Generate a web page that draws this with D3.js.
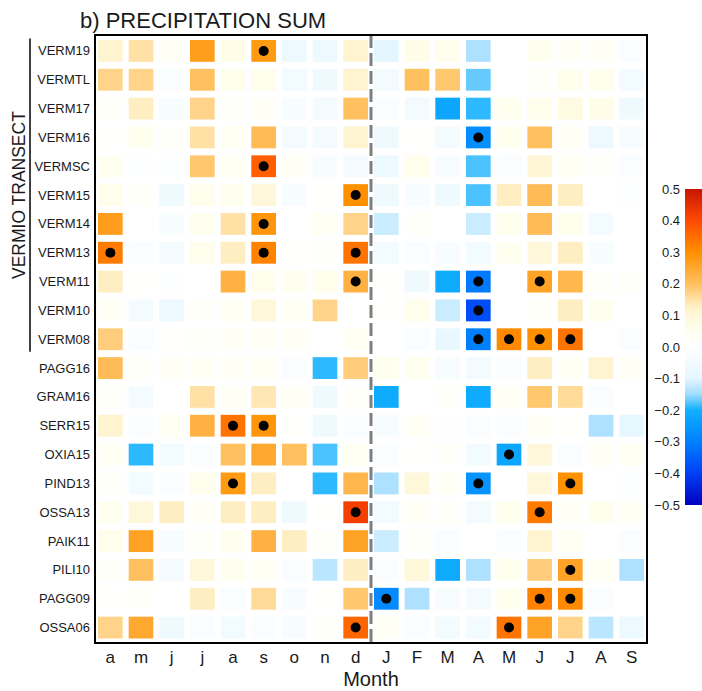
<!DOCTYPE html>
<html><head><meta charset="utf-8">
<script src="https://cdn.jsdelivr.net/npm/d3@7"></script>
<style>body{margin:0;background:#fff;} svg{font-family:"Liberation Sans",Arial,sans-serif;}</style>
</head><body><svg id="c" width="702" height="691"></svg>
<script>
const months = ["a","m","j","j","a","s","o","n","d","J","F","M","A","M","J","J","A","S"];
const sites = ["VERM19","VERMTL","VERM17","VERM16","VERMSC","VERM15","VERM14","VERM13","VERM11","VERM10","VERM08",
  "PAGG16","GRAM16","SERR15","OXIA15","PIND13","OSSA13","PAIK11","PILI10","PAGG09","OSSA06"];
const values = [
  [0.12,0.15,0.03,0.27,0.07,0.28,-0.07,-0.07,0.12,-0.10,0.07,0.06,-0.14,0.00,0.05,0.03,0.03,-0.02],
  [0.17,0.17,-0.02,0.20,0.06,0.06,-0.05,-0.06,0.12,-0.04,0.20,0.19,-0.17,0.00,0.02,0.06,0.06,-0.05],
  [0.02,0.13,-0.03,0.17,0.02,0.03,-0.03,-0.04,0.20,-0.02,-0.04,-0.22,-0.19,0.05,0.06,0.08,0.07,-0.06],
  [0.01,0.05,0.02,0.15,0.04,0.21,-0.04,-0.04,0.12,-0.06,0.01,-0.04,-0.27,0.05,0.20,0.03,-0.07,-0.03],
  [0.05,-0.01,-0.01,0.19,0.04,0.37,0.03,-0.03,-0.04,-0.07,0.06,-0.03,-0.18,-0.02,0.11,0.04,0.02,-0.02],
  [0.06,0.02,-0.06,0.06,0.05,0.10,-0.03,0.01,0.30,-0.06,-0.03,-0.06,-0.18,0.13,0.21,0.13,0.00,-0.01],
  [0.27,0.00,-0.03,0.05,0.15,0.29,0.00,0.04,0.17,-0.12,0.02,0.00,-0.12,0.05,0.21,0.06,-0.05,0.00],
  [0.33,-0.02,-0.04,0.06,0.13,0.32,0.01,0.02,0.34,-0.05,-0.02,-0.03,-0.05,0.05,0.10,0.13,-0.03,0.00],
  [0.13,0.01,-0.01,0.00,0.23,0.06,0.05,0.06,0.23,0.01,-0.06,-0.21,-0.31,0.00,0.26,0.22,0.02,0.02],
  [0.03,-0.04,-0.07,0.02,0.04,0.10,0.04,0.17,0.00,0.01,0.06,-0.12,-0.38,0.00,0.02,0.13,0.05,0.00],
  [0.18,-0.02,0.01,0.02,0.03,0.03,0.03,0.00,0.04,0.00,-0.02,-0.08,-0.30,0.31,0.30,0.34,0.00,-0.02],
  [0.21,0.02,0.03,0.04,0.03,0.04,-0.02,-0.19,0.18,0.05,0.05,-0.03,-0.04,-0.02,0.13,0.04,0.12,0.03],
  [0.02,-0.04,0.00,0.15,0.03,0.14,0.03,-0.06,0.02,-0.21,0.00,0.02,-0.21,0.03,0.19,0.16,-0.02,0.00],
  [0.12,-0.02,0.04,0.23,0.34,0.29,0.01,-0.06,-0.02,-0.03,0.04,-0.01,-0.02,-0.02,0.03,0.01,-0.14,-0.09],
  [0.04,-0.19,-0.05,-0.02,0.20,0.25,0.20,-0.18,0.04,-0.02,0.01,0.02,-0.05,-0.22,0.10,-0.02,0.03,0.04],
  [0.02,-0.05,-0.02,0.06,0.28,0.13,0.00,-0.19,0.22,-0.14,0.10,0.03,-0.26,0.00,0.10,0.30,0.00,-0.01],
  [0.05,0.10,0.13,0.03,0.13,0.13,-0.06,0.01,0.42,-0.05,0.03,0.02,-0.04,0.05,0.33,0.03,0.06,0.04],
  [0.06,0.26,-0.03,0.02,0.05,0.23,0.13,0.02,0.26,-0.12,0.02,-0.02,0.00,-0.02,0.12,0.04,0.00,-0.02],
  [0.02,0.20,-0.04,0.10,0.05,0.04,-0.02,-0.13,0.13,-0.02,0.10,-0.21,-0.14,0.05,0.18,0.26,0.04,-0.14],
  [0.01,0.02,0.00,0.13,-0.02,0.16,-0.03,0.01,0.19,-0.28,-0.14,-0.03,-0.04,0.05,0.32,0.31,-0.02,0.00],
  [0.17,0.25,-0.06,-0.02,-0.05,-0.02,-0.03,0.02,0.36,0.03,-0.02,-0.04,-0.05,0.34,0.26,0.17,-0.13,-0.07]
];
// significance markers: [row, col]
const signif = [[0,5],[3,12],[4,5],[5,8],[6,5],[7,0],[7,5],[7,8],[8,8],[8,12],[8,14],[9,12],
  [10,12],[10,13],[10,14],[10,15],[13,4],[13,5],[14,13],[15,4],[15,12],[15,15],[16,8],[16,14],
  [18,15],[19,9],[19,14],[19,15],[20,8],[20,13]];
const legendTicks = [0.5,0.4,0.3,0.2,0.1,0.0,-0.1,-0.2,-0.3,-0.4,-0.5];
const colorStops = [-0.5,-0.4,-0.3,-0.2,-0.15,-0.1,0,0.05,0.12,0.2,0.3,0.4,0.5];
const colorVals = ["#0000c0","#0040f5","#0080ff","#10b0ff","#a0dcff","#e4f6ff","#ffffff","#fffff0","#fff4d0","#ffc060","#ff9000","#ff4a00","#c81400"];

const svg = d3.select("#c");
const color = d3.scaleLinear().domain(colorStops).range(colorVals).clamp(true);

const L=95, R=647, T=35, B=643;
const x = d3.scaleBand().domain(d3.range(months.length)).range([L, R]);
const y = d3.scaleBand().domain(d3.range(sites.length)).range([T+1.5, B-1]);
const cw = x.bandwidth()-6, ch = y.bandwidth()-7;

const cells = [];
values.forEach((row,i)=>row.forEach((v,j)=>cells.push({i,j,v})));
svg.append("g").selectAll("rect").data(cells).join("rect")
  .attr("x", d=>x(d.j)+(x.bandwidth()-cw)/2)
  .attr("y", d=>y(d.i)+(y.bandwidth()-ch)/2)
  .attr("width", cw).attr("height", ch)
  .attr("fill", d=>color(d.v));

svg.append("g").selectAll("circle").data(signif).join("circle")
  .attr("cx", d=>x(d[1])+x.bandwidth()/2)
  .attr("cy", d=>y(d[0])+y.bandwidth()/2)
  .attr("r", 5).attr("fill","#000");

// dashed separator between d and J
const xs = x(9);
svg.append("line").attr("x1",xs).attr("x2",xs).attr("y1",T).attr("y2",B)
  .attr("stroke","#7f7f7f").attr("stroke-width",3).attr("stroke-dasharray","13,5");

// panel border
svg.append("rect").attr("x",L).attr("y",T).attr("width",R-L).attr("height",B-T)
  .attr("fill","none").attr("stroke","#000").attr("stroke-width",2);

// row labels
svg.append("g").selectAll("text").data(sites).join("text")
  .attr("x", 90).attr("y", (d,i)=>y(i)+y.bandwidth()/2)
  .attr("text-anchor","end").attr("dominant-baseline","central")
  .attr("font-size",13).attr("fill","#1a1a1a").text(d=>d);

// column labels
svg.append("g").selectAll("text").data(months).join("text")
  .attr("x", (d,i)=>x(i)+x.bandwidth()/2).attr("y", 663)
  .attr("text-anchor","middle").attr("font-size",17).attr("fill","#1a1a1a").text(d=>d);

svg.append("text").attr("x",(x(0)+x(17)+x.bandwidth())/2).attr("y",686)
  .attr("text-anchor","middle").attr("font-size",20).attr("fill","#1a1a1a").text("Month");

svg.append("text").attr("x",80).attr("y",28).attr("font-size",22).attr("fill","#1a1a1a")
  .text("b) PRECIPITATION SUM");

// Vermio transect bracket
const yTop = y(0)+2, yBot = y(10)+y.bandwidth()-2;
svg.append("line").attr("x1",30).attr("x2",30).attr("y1",yTop).attr("y2",yBot)
  .attr("stroke","#000").attr("stroke-width",1.5);
svg.append("text").attr("transform",`translate(25,${(yTop+yBot)/2}) rotate(-90)`)
  .attr("text-anchor","middle").attr("font-size",17.5).attr("fill","#1a1a1a").text("VERMIO TRANSECT");

// colour bar
const cbTop=189, cbBot=505, cbX=685, cbW=20;
const ly = d3.scaleLinear().domain([0.5,-0.5]).range([cbTop,cbBot]);
const defs = svg.append("defs");
const grad = defs.append("linearGradient").attr("id","g").attr("x1",0).attr("x2",0).attr("y1",0).attr("y2",1);
d3.range(0,41).forEach(k=>{
  const v = 0.5 - k*0.025;
  grad.append("stop").attr("offset",(k/40)).attr("stop-color",color(v));
});
svg.append("rect").attr("x",cbX).attr("y",cbTop).attr("width",cbW).attr("height",cbBot-cbTop).attr("fill","url(#g)");
svg.append("g").selectAll("text").data(legendTicks).join("text")
  .attr("x",680).attr("y",d=>ly(d)).attr("text-anchor","end").attr("dominant-baseline","central")
  .attr("font-size",13).attr("fill","#1a1a1a").text(d=>d3.format(".1f")(d));
</script></body></html>
